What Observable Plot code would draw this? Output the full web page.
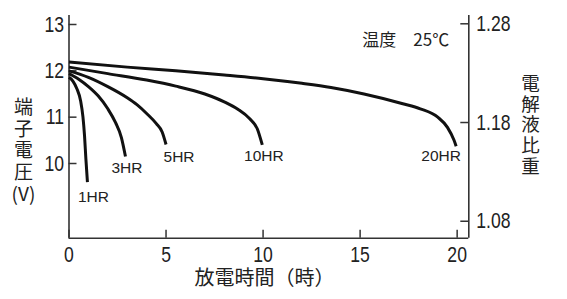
<!DOCTYPE html>
<html><head><meta charset="utf-8">
<script src="https://cdn.jsdelivr.net/npm/d3@7"></script>
<script src="https://cdn.jsdelivr.net/npm/@observablehq/plot@0.6"></script>
<style>html,body{margin:0;padding:0;background:#fff}</style>
</head><body><div id="chart"></div>
<script>
// ---- data ----
const series = ["1HR", "3HR", "5HR", "10HR", "20HR"];
const hours1HR = [0, 0.2, 0.4, 0.6, 0.72, 0.8, 0.87, 0.95];
const volts1HR = [11.86, 11.78, 11.62, 11.35, 11.0, 10.6, 10.1, 9.6];
const hours3HR = [0, 0.5, 1.0, 1.5, 2.0, 2.4, 2.7, 2.91];
const volts3HR = [11.94, 11.82, 11.66, 11.46, 11.18, 10.88, 10.56, 10.15];
const hours5HR = [0, 1, 2, 3, 3.5, 4, 4.5, 4.8, 5.0];
const volts5HR = [12.0, 11.86, 11.66, 11.42, 11.27, 11.08, 10.86, 10.68, 10.41];
const hours10HR = [0, 2, 4, 5.5, 7, 8, 8.7, 9.3, 9.7, 9.96];
const volts10HR = [12.08, 11.94, 11.8, 11.67, 11.5, 11.33, 11.17, 10.97, 10.75, 10.4];
const hours20HR = [0, 3, 5.5, 8, 10, 12, 13.5, 15.2, 17.2, 18.1, 19.0, 19.5, 19.84, 19.95];
const volts20HR = [12.19, 12.08, 12.0, 11.91, 11.83, 11.73, 11.64, 11.5, 11.29, 11.18, 11.0, 10.78, 10.5, 10.37];

const xTicks = [0, 5, 10, 15, 20];
const voltTicks = [10, 11, 12, 13];
const gravityTicks = [1.08, 1.18, 1.28];

const xTitle = "放電時間（時）";
const yTitleChars = ["端", "子", "電", "圧", "(V)"];
const y2TitleChars = ["電", "解", "液", "比", "重"];
const note = "温度　25℃";

// ---- build table ----
const hoursBy = {"1HR": hours1HR, "3HR": hours3HR, "5HR": hours5HR, "10HR": hours10HR, "20HR": hours20HR};
const voltsBy = {"1HR": volts1HR, "3HR": volts3HR, "5HR": volts5HR, "10HR": volts10HR, "20HR": volts20HR};
const rows = series.flatMap(s => hoursBy[s].map((h, i) => ({series: s, h, v: voltsBy[s][i]})));
const ends = series.map(s => ({series: s, h: hoursBy[s].at(-1), v: voltsBy[s].at(-1)}));

// ---- layout ----
const W = 567, H = 299;
const mL = 68.5, mR = 98.7, mT = 15, mB = 61.3;
const xMax = 20.6, yMin = 8.388, yMax = 13.194;
const pxPerX = (W - mL - mR) / xMax;
const pxPerY = (H - mT - mB) / (yMax - yMin);
const tickX = 8 / pxPerX, tickY = 8 / pxPerY;
// right axis (specific gravity) mapped onto the voltage scale
const gToV = g => 8.754 + (g - 1.08) * 21.305;
const vToG = v => 1.08 + (v - 8.754) / 21.305;
// vertical right title: one glyph per row, 20.6px apart, centred at y=125px
const y2Center = yMax - (125 - mT) / pxPerY;
const y2Step = 20.6 / pxPerY;

const numFont = "'Liberation Sans',Arial,sans-serif";
const cjkFont = "'Noto Sans CJK JP','Noto Sans CJK SC',sans-serif";
const axisColor = "#333";
const ink = "#222";
const labelOffsets = {"1HR": [6, 14.5], "3HR": [1.5, 11], "5HR": [13, 12.5], "10HR": [1.6, 11], "20HR": [-15, 9.5]};

const chart = Plot.plot({
  width: W, height: H,
  marginLeft: mL, marginRight: mR, marginTop: mT, marginBottom: mB,
  x: {domain: [0, xMax]},
  y: {domain: [yMin, yMax]},
  style: {background: "white", fontFamily: numFont, color: ink},
  marks: [
    Plot.ruleX([0, xMax], {stroke: axisColor, strokeWidth: 1.6}),
    Plot.ruleY([yMin], {stroke: axisColor, strokeWidth: 1.6}),
    Plot.ruleY(voltTicks, {y: d => d, x1: 0, x2: tickX, stroke: axisColor, strokeWidth: 1.5}),
    Plot.ruleY(gravityTicks.map(gToV), {y: d => d, x1: xMax - tickX, x2: xMax, stroke: axisColor, strokeWidth: 1.5}),
    Plot.ruleX(xTicks, {x: d => d, y1: yMin, y2: yMin + tickY, stroke: axisColor, strokeWidth: 1.5}),
    Plot.axisX({ticks: xTicks, tickFormat: d => String(d), tickSize: 0, tickPadding: 8, fontSize: 22, label: null, fill: ink}),
    Plot.axisY({anchor: "left", ticks: voltTicks, tickFormat: d => String(d), tickSize: 0, tickPadding: 5, fontSize: 22, label: null, fill: ink}),
    Plot.axisY({anchor: "right", ticks: gravityTicks.map(gToV), tickFormat: v => vToG(v).toFixed(2), tickSize: 0, tickPadding: 7.5, fontSize: 22, label: null, fill: ink}),
    Plot.line(rows, {x: "h", y: "v", z: "series", stroke: "#111", strokeWidth: 3, curve: "monotone-x", strokeLinecap: "butt"}),
    ...series.map(s => Plot.text(ends.filter(d => d.series === s), {
      x: "h", y: "v", text: "series", dx: labelOffsets[s][0], dy: labelOffsets[s][1],
      fontSize: 15.5, fontFamily: numFont, fill: ink
    })),
    Plot.text([yTitleChars.join("\n")], {
      frameAnchor: "left", textAnchor: "middle", lineAnchor: "middle",
      dx: -45.5, dy: 23.6, fontSize: 19, lineHeight: 1.145,
      fontFamily: cjkFont, fill: ink
    }),
    Plot.text(y2TitleChars, {
      x: () => xMax, y: (d, i) => y2Center - (i - 2) * y2Step, text: d => d,
      textAnchor: "middle", lineAnchor: "middle", dx: 61.7,
      fontSize: 18.5, fontFamily: cjkFont, fill: ink
    }),
    Plot.text([xTitle], {
      frameAnchor: "bottom", textAnchor: "middle", lineAnchor: "middle",
      dx: -4.4, dy: 40.3, fontSize: 20, fontFamily: cjkFont, fill: ink
    }),
    Plot.text([note], {
      frameAnchor: "top-right", textAnchor: "end", lineAnchor: "middle",
      dx: -19.6, dy: 25, fontSize: 17, fontFamily: cjkFont, fill: ink
    })
  ]
});

document.getElementById("chart").appendChild(chart);

// condense the tick-label digits (the reference uses a narrow face)
d3.select(chart).selectAll('g[aria-label$="tick label"] text').each(function () {
  const w = this.getComputedTextLength();
  if (w > 0) {
    this.setAttribute("textLength", (w * 0.8).toFixed(2));
    this.setAttribute("lengthAdjust", "spacingAndGlyphs");
  }
});
</script>
</body></html>
